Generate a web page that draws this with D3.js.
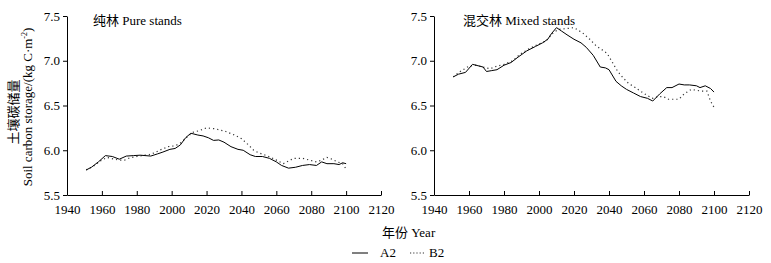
<!DOCTYPE html>
<html>
<head>
<meta charset="utf-8">
<script src="https://cdn.jsdelivr.net/npm/d3@7"></script>
<style>
  body { margin: 0; background: #fff; }
  svg { display: block; font-family: "Liberation Serif", "Times New Roman", "Noto Sans CJK SC", serif; }
</style>
</head>
<body>
<svg id="chart" width="771" height="263"></svg>
<script>
// Pure stands, A2 (solid) and B2 (dotted)
const pureYearsA = [1951,1954,1958,1962,1966,1970,1974,1978,1982,1988,1992,1995,1999,2002,2005,2008,2011,2015,2018,2021,2024,2027,2030,2034,2038,2041,2045,2048,2052,2056,2060,2063,2067,2071,2075,2079,2083,2086,2089,2093,2096,2098,2100];
const pureA = [5.78,5.81,5.87,5.94,5.93,5.90,5.935,5.94,5.945,5.935,5.96,5.98,6.01,6.02,6.06,6.14,6.19,6.17,6.16,6.14,6.11,6.115,6.09,6.04,6.01,6.00,5.95,5.93,5.93,5.91,5.87,5.83,5.80,5.81,5.83,5.84,5.83,5.87,5.85,5.85,5.84,5.86,5.85];
const pureYearsB = [1951,1955,1959,1963,1967,1970,1973,1976,1980,1984,1987,1990,1993,1998,2002,2005,2009,2012,2016,2020,2025,2031,2036,2040,2044,2047,2050,2053,2057,2061,2064,2067,2070,2075,2079,2083,2086,2089,2092,2095,2098,2100];
const pureB = [5.78,5.82,5.88,5.92,5.90,5.89,5.89,5.915,5.93,5.945,5.95,5.97,6.00,6.04,6.05,6.08,6.15,6.20,6.22,6.25,6.24,6.21,6.17,6.13,6.06,6.00,5.97,5.95,5.92,5.88,5.85,5.88,5.91,5.91,5.89,5.87,5.89,5.92,5.90,5.87,5.85,5.79];

// Mixed stands
const mixedYearsA = [1951,1954,1958,1962,1966,1968,1970,1973,1976,1980,1984,1988,1993,1998,2002,2005,2007,2010,2013,2016,2020,2024,2027,2031,2035,2038,2040,2044,2047,2050,2054,2058,2062,2065,2069,2073,2076,2080,2083,2086,2090,2092,2095,2098,2100];
const mixedA = [6.82,6.85,6.87,6.96,6.94,6.93,6.88,6.89,6.90,6.95,6.98,7.04,7.11,7.16,7.20,7.24,7.30,7.37,7.33,7.29,7.24,7.20,7.15,7.06,6.93,6.92,6.90,6.77,6.72,6.68,6.64,6.60,6.58,6.55,6.63,6.70,6.70,6.74,6.73,6.73,6.72,6.70,6.72,6.69,6.65];
const mixedYearsB = [1951,1955,1960,1964,1968,1972,1976,1980,1985,1989,1994,1999,2004,2008,2011,2016,2020,2025,2029,2033,2037,2039,2042,2045,2048,2051,2055,2058,2062,2065,2068,2071,2074,2080,2083,2087,2090,2093,2096,2098,2100];
const mixedB = [6.82,6.88,6.94,6.95,6.93,6.91,6.94,6.96,7.00,7.07,7.13,7.18,7.22,7.31,7.35,7.36,7.37,7.31,7.24,7.16,7.11,7.08,6.98,6.88,6.81,6.75,6.70,6.66,6.61,6.58,6.60,6.60,6.57,6.57,6.63,6.68,6.67,6.66,6.66,6.55,6.48];

const xTicks = [1940,1960,1980,2000,2020,2040,2060,2080,2100,2120];
const yTicks = [5.5,6.0,6.5,7.0,7.5];

const svg = d3.select("#chart");
svg.append("rect").attr("width", 771).attr("height", 263).attr("fill", "#fff");

const plotTop = 16, plotBottom = 195;
const y = d3.scaleLinear().domain([5.5, 7.5]).range([plotBottom, plotTop]);

const panels = [
  { x0: 67, x1: 381, title: "纯林 Pure stands", ya: pureYearsA, a: pureA, yb: pureYearsB, b: pureB },
  { x0: 434, x1: 749, title: "混交林 Mixed stands", ya: mixedYearsA, a: mixedA, yb: mixedYearsB, b: mixedB }
];

panels.forEach(p => {
  const x = d3.scaleLinear().domain([1940, 2120]).range([p.x0, p.x1]);
  const g = svg.append("g");

  const xAxis = g.append("g")
    .attr("transform", `translate(0,${plotBottom})`)
    .call(d3.axisBottom(x).tickValues(xTicks).tickFormat(d3.format("d")).tickSizeInner(-4).tickSizeOuter(0).tickPadding(10));
  const yAxis = g.append("g")
    .attr("transform", `translate(${p.x0},0)`)
    .call(d3.axisLeft(y).tickValues(yTicks).tickFormat(d3.format(".1f")).tickSizeInner(4).tickSizeOuter(0).tickPadding(3));

  [xAxis, yAxis].forEach(a => {
    a.selectAll("text").attr("font-size", 13).attr("fill", "#000").attr("font-family", "Liberation Serif");
    a.selectAll("line,path").attr("stroke", "#000");
  });

  const line = d3.line().x(d => x(d[0])).y(d => y(d[1]));

  g.append("path")
    .datum(p.yb.map((yr, i) => [yr, p.b[i]]))
    .attr("fill", "none")
    .attr("stroke", "#333")
    .attr("stroke-width", 1.2)
    .attr("stroke-dasharray", "1.2,3")
    .attr("d", line);

  g.append("path")
    .datum(p.ya.map((yr, i) => [yr, p.a[i]]))
    .attr("fill", "none")
    .attr("stroke", "#000")
    .attr("stroke-width", 1)
    .attr("d", line);

  g.append("text")
    .attr("x", p.x0 + (p.x0 < 100 ? 26 : 29))
    .attr("y", 25)
    .attr("font-size", 13)
    .text(p.title);
});

// y-axis titles
svg.append("text")
  .attr("transform", "translate(18,112) rotate(-90)")
  .attr("text-anchor", "middle")
  .attr("font-size", 13)
  .attr("font-family", "Noto Sans CJK SC")
  .text("土壤碳储量");

const yt = svg.append("text")
  .attr("transform", "translate(32,107) rotate(-90)")
  .attr("text-anchor", "middle")
  .attr("font-size", 13);
yt.append("tspan").text("Soil carbon storage/(kg C·m");
yt.append("tspan").attr("font-size", 8).attr("dy", -5).text("-2");
yt.append("tspan").attr("dy", 5).text(")");

// x-axis title
svg.append("text")
  .attr("x", 382)
  .attr("y", 237)
  .attr("font-size", 13)
  .text("年份 Year");

// legend
const legend = svg.append("g");
legend.append("line").attr("x1", 352).attr("x2", 368).attr("y1", 253).attr("y2", 253)
  .attr("stroke", "#000").attr("stroke-width", 1);
legend.append("text").attr("x", 380).attr("y", 257).attr("font-size", 13).text("A2");
legend.append("line").attr("x1", 410).attr("x2", 424).attr("y1", 253).attr("y2", 253)
  .attr("stroke", "#333").attr("stroke-width", 1.2).attr("stroke-dasharray", "1.2,2");
legend.append("text").attr("x", 429).attr("y", 257).attr("font-size", 13).text("B2");
</script>
</body>
</html>
